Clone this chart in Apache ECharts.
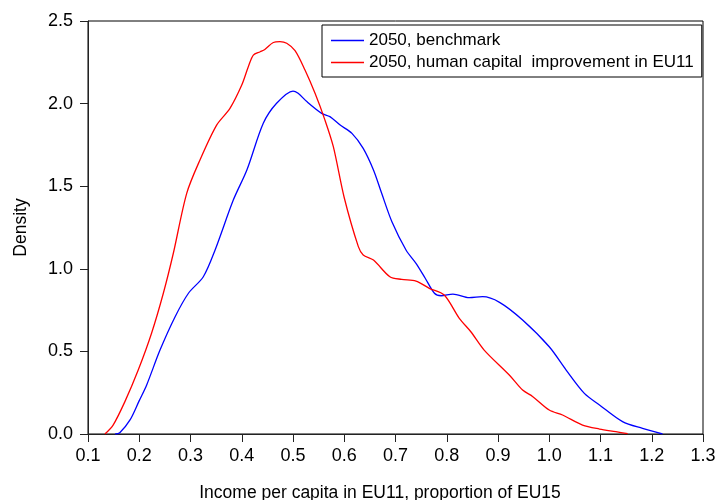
<!DOCTYPE html>
<html>
<head>
	<title>Density</title>
	<meta charset="utf-8">
	<script src="https://cdn.jsdelivr.net/npm/echarts@6/dist/echarts.min.js"></script>
</head>
<body style="margin:0">
<div id="chart" style="width:716px;height:500px"></div>
<script>
	// benchmark curve (blue)
	const benchX = [0.153, 0.162, 0.182, 0.200, 0.2145, 0.2405, 0.270, 0.296, 0.325, 0.348, 0.3835, 0.410, 0.442, 0.468, 0.500, 0.510, 0.527, 0.556, 0.572, 0.592, 0.615, 0.637, 0.657, 0.673, 0.693, 0.7205, 0.740, 0.758, 0.776, 0.789, 0.812, 0.844, 0.870, 0.903, 0.948, 1.000, 1.033, 1.0685, 1.098, 1.143, 1.182, 1.221];
	const benchY = [0.0, 0.008, 0.085, 0.202, 0.297, 0.508, 0.710, 0.852, 0.952, 1.114, 1.416, 1.598, 1.881, 2.002, 2.076, 2.062, 2.012, 1.941, 1.921, 1.870, 1.820, 1.729, 1.598, 1.457, 1.285, 1.114, 1.033, 0.943, 0.852, 0.837, 0.847, 0.825, 0.831, 0.797, 0.690, 0.528, 0.387, 0.246, 0.176, 0.075, 0.034, 0.0];
	// human capital improvement curve (red)
	const hcX = [0.133, 0.149, 0.172, 0.198, 0.224, 0.247, 0.2665, 0.2926, 0.3185, 0.351, 0.377, 0.400, 0.4128, 0.4226, 0.436, 0.445, 0.4616, 0.4746, 0.4877, 0.504, 0.5234, 0.543, 0.5624, 0.5787, 0.600, 0.6275, 0.637, 0.657, 0.689, 0.712, 0.740, 0.766, 0.795, 0.8245, 0.847, 0.873, 0.922, 0.948, 0.968, 1.000, 1.026, 1.065, 1.098, 1.130, 1.153];
	const hcY = [0.0, 0.054, 0.196, 0.387, 0.610, 0.852, 1.094, 1.457, 1.659, 1.870, 1.971, 2.112, 2.223, 2.294, 2.314, 2.328, 2.370, 2.375, 2.365, 2.320, 2.203, 2.062, 1.900, 1.739, 1.430, 1.134, 1.084, 1.053, 0.952, 0.936, 0.926, 0.882, 0.841, 0.700, 0.619, 0.508, 0.357, 0.266, 0.226, 0.145, 0.115, 0.054, 0.030, 0.014, 0.002];

	const names = ['2050, benchmark', '2050, human capital  improvement in EU11'];
	const font = 'Liberation Sans, Arial, sans-serif';

	function pairs(xs, ys){
		return xs.map((x, i) => [x, ys[i]]);
	}

	let option = {
		animation: false,
		textStyle: {fontFamily: font},
		grid: {
			left: 88, right: 13, top: 21, bottom: 66,
			outerBoundsMode: 'none',
			show: true, borderColor: '#000', borderWidth: 1
		},
		legend: {
			left: 322, top: 25,
			orient: 'vertical',
			backgroundColor: '#fff',
			borderColor: '#000', borderWidth: 1,
			padding: [7, 8, 6, 9],
			icon: 'rect',
			itemWidth: 33, itemHeight: 1.5, itemGap: 5,
			textStyle: {fontSize: 17, color: '#000', fontFamily: font, lineHeight: 17},
			data: names
		},
		xAxis: {
			type: 'value',
			min: 0.1, max: 1.3, interval: 0.1,
			name: 'Income per capita in EU11, proportion of EU15',
			nameLocation: 'middle', nameGap: 50,
			nameTextStyle: {fontSize: 17.5, color: '#000', padding: [0, 31, 0, 0]},
			axisLine: {lineStyle: {color: '#222'}},
			axisTick: {length: 8, lineStyle: {color: '#222'}},
			axisLabel: {fontSize: 18, color: '#000', margin: 13,
				formatter: v => v.toFixed(1)},
			splitLine: {show: false}
		},
		yAxis: {
			type: 'value',
			min: 0, max: 2.5, interval: 0.5,
			name: 'Density',
			nameLocation: 'middle', nameGap: 58, nameRotate: 90,
			nameTextStyle: {fontSize: 17.5, color: '#000'},
			axisLine: {show: true, lineStyle: {color: '#222'}},
			axisTick: {show: true, length: 8, lineStyle: {color: '#222'}},
			axisLabel: {fontSize: 18, color: '#000', margin: 15,
				formatter: v => v.toFixed(1)},
			splitLine: {show: false}
		},
		series: [{
			name: names[0],
			type: 'line',
			symbol: 'none',
			smooth: 0.3,
			color: '#0000ff',
			lineStyle: {width: 1.3, color: '#0000ff'},
			data: pairs(benchX, benchY)
		}, {
			name: names[1],
			type: 'line',
			symbol: 'none',
			smooth: 0.3,
			color: '#ff0000',
			lineStyle: {width: 1.3, color: '#ff0000'},
			data: pairs(hcX, hcY)
		}]
	};
	let myChart = echarts.init(document.getElementById('chart'));
	myChart.setOption(option);
</script>
</body>
</html>
